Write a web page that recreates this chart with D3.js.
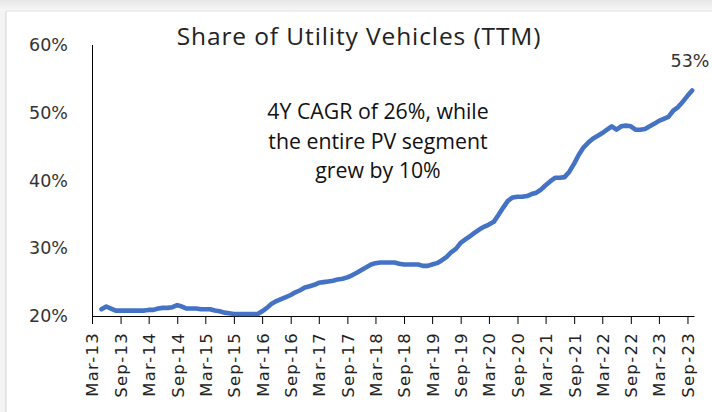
<!DOCTYPE html>
<html><head><meta charset="utf-8">
<script src="https://cdn.jsdelivr.net/npm/d3@7"></script>
<style>
html,body{margin:0;padding:0;background:#fff;}
svg{display:block;}
</style></head>
<body>
<svg id="chart" width="712" height="412"></svg>
<script>
// ---- data ----
const startMonth = "2013-05"; // first data point
const shareValues = [
 21.0,21.4,21.1,20.8,20.8,20.8,20.8,20.8,20.8,20.8,20.9,          // May-13 .. Mar-14
 20.9,21.1,21.2,21.2,21.3,21.6,21.4,21.1,21.1,21.1,21.0,21.0,      // Apr-14 .. Mar-15
 21.0,20.8,20.7,20.5,20.4,20.3,20.3,20.3,20.3,20.3,20.3,20.7,      // Apr-15 .. Mar-16
 21.2,21.8,22.2,22.5,22.8,23.1,23.5,23.8,24.2,24.4,24.6,24.9,      // Apr-16 .. Mar-17
 25.0,25.1,25.2,25.4,25.5,25.7,26.0,26.4,26.8,27.2,27.6,27.8,      // Apr-17 .. Mar-18
 27.9,27.9,27.9,27.9,27.7,27.6,27.6,27.6,27.6,27.4,27.4,27.6,      // Apr-18 .. Mar-19
 27.8,28.2,28.7,29.4,29.9,30.8,31.3,31.8,32.3,32.8,33.2,33.5,      // Apr-19 .. Mar-20
 33.9,34.9,36.0,37.0,37.5,37.6,37.6,37.7,38.0,38.2,38.7,39.3,      // Apr-20 .. Mar-21
 39.9,40.4,40.4,40.5,41.3,42.5,43.8,44.9,45.6,46.2,46.6,47.0,      // Apr-21 .. Mar-22
 47.5,48.0,47.5,48.0,48.1,48.0,47.5,47.5,47.6,48.0,48.4,48.8,      // Apr-22 .. Mar-23
 49.1,49.4,50.3,50.8,51.6,52.5,53.3                                // Apr-23 .. Oct-23
];
const yTicks = [20, 30, 40, 50, 60];
const xTickLabels = ["Mar-13","Sep-13","Mar-14","Sep-14","Mar-15","Sep-15","Mar-16","Sep-16",
 "Mar-17","Sep-17","Mar-18","Sep-18","Mar-19","Sep-19","Mar-20","Sep-20","Mar-21","Sep-21",
 "Mar-22","Sep-22","Mar-23","Sep-23"];
const titleText = "Share of Utility Vehicles (TTM)";
const noteLines = ["4Y CAGR of 26%, while", "the entire PV segment", "grew by 10%"];
const endLabel = "53%";

// ---- build ----
const parseM = d3.timeParse("%Y-%m");
const parseTick = d3.timeParse("%b-%y");
const t0 = parseM(startMonth);
const data = shareValues.map((v, i) => ({date: d3.timeMonth.offset(t0, i), value: v}));
const tickDates = xTickLabels.map(s => parseTick(s));

const svg = d3.select("#chart");

// frame / soft shadow
const defs = svg.append("defs");
const g1 = defs.append("linearGradient").attr("id","topShade").attr("x1",0).attr("y1",0).attr("x2",0).attr("y2",1);
g1.append("stop").attr("offset","0%").attr("stop-color","#e6e6e6");
g1.append("stop").attr("offset","100%").attr("stop-color","#f8f8f8");
svg.append("rect").attr("x",0).attr("y",0).attr("width",712).attr("height",412).attr("fill","#f4f4f4");
svg.append("rect").attr("x",0).attr("y",0).attr("width",712).attr("height",11).attr("fill","url(#topShade)");
svg.append("rect").attr("x",6).attr("y",11).attr("width",706).attr("height",401).attr("fill","#fff");
svg.append("line").attr("x1",6).attr("x2",6).attr("y1",11).attr("y2",412).attr("stroke","#d4d4d4");
svg.append("line").attr("x1",6).attr("x2",712).attr("y1",11).attr("y2",11).attr("stroke","#e0e0e0");

const x = d3.scaleTime()
  .domain([parseTick("Mar-13"), d3.timeDay.offset(d3.timeMonth.offset(t0, shareValues.length - 1), 12)])
  .range([92, 694]);
const y = d3.scaleLinear().domain([20, 60]).range([316, 45]);

const labelFont = "'DejaVu Sans', Verdana, sans-serif";
const textFont = "'Open Sans', 'Noto Sans', sans-serif";

// y axis
const yAxis = svg.append("g").attr("transform","translate(92,0)")
  .call(d3.axisLeft(y).tickValues(yTicks).tickSize(0).tickPadding(24).tickFormat(d => d + "%"));
yAxis.select(".domain").attr("stroke","#000").attr("d","M0.5,45V316");
yAxis.selectAll("text").attr("font-family", labelFont).attr("font-size", 17.5).attr("fill","#333");

// x axis
const xAxis = svg.append("g").attr("transform","translate(0,316)")
  .call(d3.axisBottom(x).tickValues(tickDates).tickSize(8).tickSizeOuter(0).tickFormat(d3.timeFormat("%b-%y")));
xAxis.select(".domain").attr("stroke","#000");
xAxis.selectAll(".tick line").attr("stroke","#000");
xAxis.selectAll("text")
  .attr("font-family", labelFont).attr("font-size", 16.5).attr("fill","#222")
  .attr("letter-spacing", "1.3px")
  .attr("text-anchor","end")
  .attr("transform","rotate(-90)")
  .attr("x", -16).attr("y", 0).attr("dy","0.36em");

// line
const line = d3.line().x(d => x(d.date)).y(d => y(d.value)).curve(d3.curveLinear);
svg.append("path").datum(data)
  .attr("d", line).attr("fill","none").attr("stroke","#4472C4")
  .attr("stroke-width", 4.6).attr("stroke-linejoin","round").attr("stroke-linecap","round");

// title
svg.append("text").attr("x", 359).attr("y", 45).attr("text-anchor","middle")
  .attr("font-family", textFont).attr("font-size", 24.5).attr("letter-spacing","0.9px")
  .attr("fill","#222").text(titleText);

// annotation
svg.append("g").selectAll("text").data(noteLines).join("text")
  .attr("x", 378).attr("y", (d, i) => 119 + i * 29.5).attr("text-anchor","middle")
  .attr("font-family", textFont).attr("font-size", 21.3).attr("fill","#111").text(d => d);

// end label
svg.append("text").attr("x", 690).attr("y", 67).attr("text-anchor","middle")
  .attr("font-family", labelFont).attr("font-size", 17.5).attr("fill","#333").text(endLabel);
</script>
</body></html>
